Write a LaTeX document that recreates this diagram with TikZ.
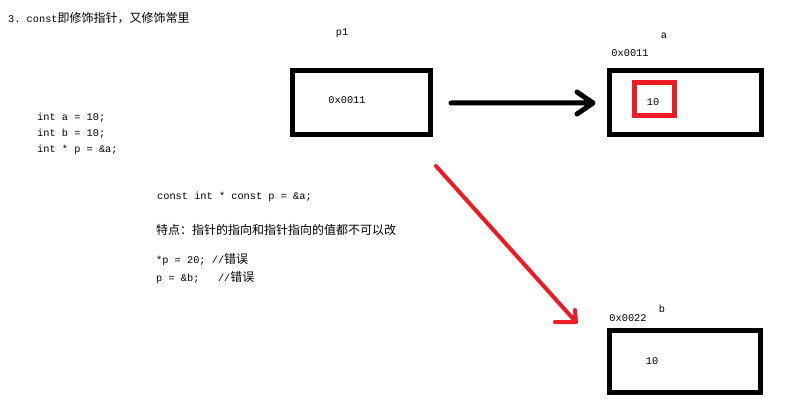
\documentclass[tikz,border=0pt]{standalone}
\usepackage{fontspec}
\setmonofont{Liberation Mono}
\newfontfamily\cjk{Noto Sans CJK SC}
\newcommand\zh[1]{{\cjk\fontsize{12}{14}\selectfont #1}}
\definecolor{paintred}{RGB}{237,28,36}
\begin{document}
\begin{tikzpicture}[x=1pt,y=-1pt,
  txt/.style={inner sep=0pt,font=\ttfamily\fontsize{10.3}{12}\selectfont},
  membox/.style={draw=black,line width=5pt,inner sep=0pt},
  redbox/.style={draw=paintred,line width=5pt,inner sep=0pt},
  blkarrow/.style={draw=black,line width=5pt,line cap=round,line join=round},
  redarrow/.style={draw=paintred,line width=4pt,line cap=round,line join=round}]
\useasboundingbox (0,0) rectangle (791,403);
\fill[white] (0,0) rectangle (791,403);
% title
\node[txt,anchor=west] (title) at (8,18) {3.~const\zh{即修饰指针，又修饰常里}};
% code
\node[txt,anchor=west] (c1) at (37,118) {int a = 10;};
\node[txt,anchor=west] (c2) at (37,134) {int b = 10;};
\node[txt,anchor=west] (c3) at (37,150) {int * p = \&a;};
\node[txt,anchor=west] (d1) at (157,197) {const int * const p = \&a;};
\node[txt,anchor=west] (d2) at (156,230) {\zh{特点：指针的指向和指针指向的值都不可以改}};
\node[txt,anchor=west] (d3) at (156,260) {*p = 20;~//\zh{错误}};
\node[txt,anchor=west] (d4) at (156,278) {p = \&b;~~~//\zh{错误}};
% boxes
\node[membox,minimum width=138,minimum height=64] (p1) at (361.5,102.5) {};
\node[membox,minimum width=152,minimum height=64] (a) at (685.5,102.5) {};
\node[membox,minimum width=151,minimum height=62] (b) at (685,361.5) {};
\node[redbox,minimum width=40,minimum height=33] (ra) at (654.5,99) {};
% labels
\node[txt] (p1name) at (342,33) {p1};
\node[txt] (p1val) at (347,100) {0x0011};
\node[txt] (aname) at (664,36) {a};
\node[txt] (aaddr) at (630,53) {0x0011};
\node[txt] (aval) at (653,102) {10};
\node[txt] (bname) at (662,309) {b};
\node[txt] (baddr) at (628,318) {0x0022};
\node[txt] (bval) at (652,361) {10};
% arrows
\coordinate (bs) at (451,103);
\coordinate (bt) at (593,103);
\draw[blkarrow] (bs) -- (bt) -- ++(-16,-11) (bt) -- ++(-16,11);
\coordinate (rs) at (436,166);
\coordinate (rt) at (576,322);
\draw[redarrow] (rs) -- (rt) -- ++(-21,0) (rt) -- ++(-1,-12);
\end{tikzpicture}
\end{document}
